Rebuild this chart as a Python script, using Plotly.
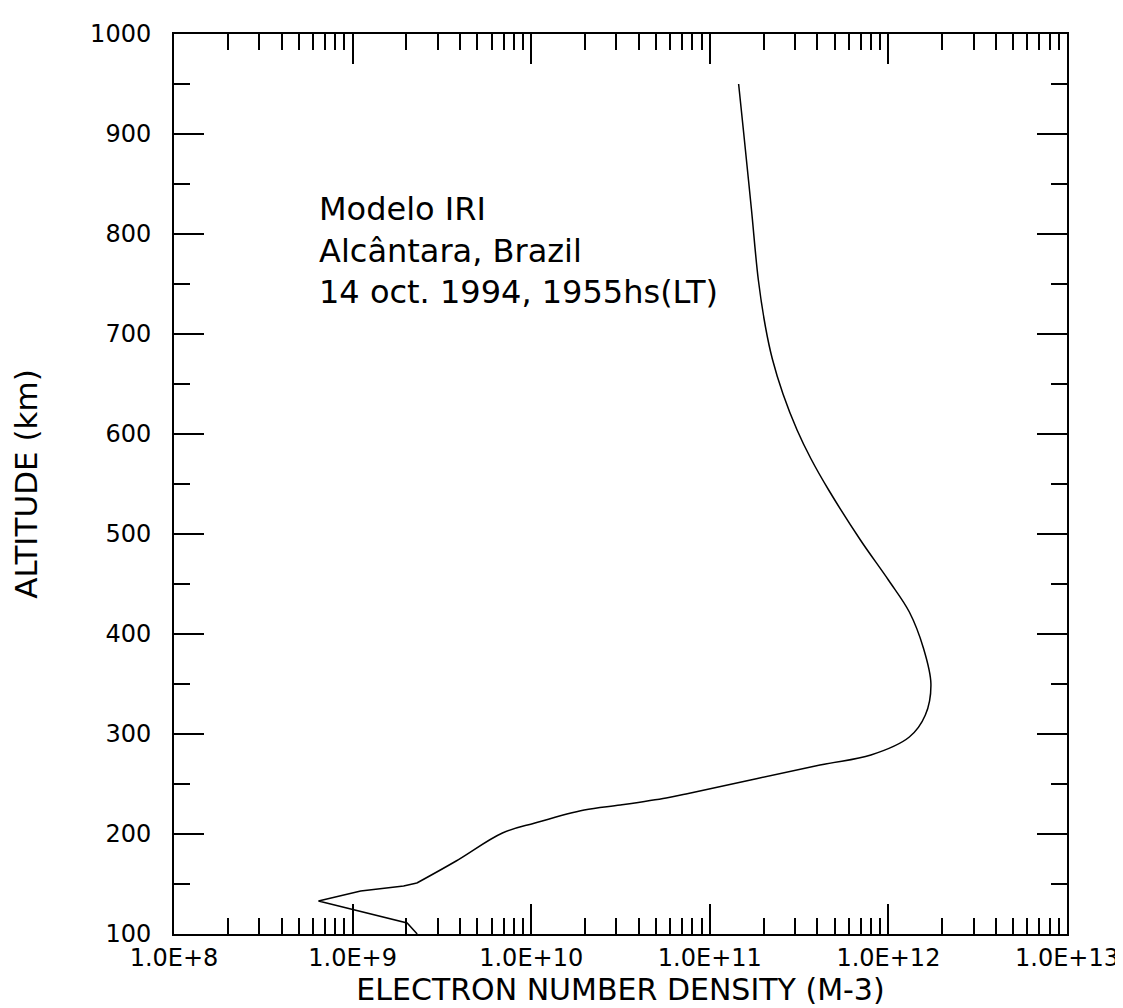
import plotly.graph_objects as go

# Electron density profile (IRI model)
altitude_km = [950, 900, 825, 754, 707, 675, 640, 604, 575, 544, 494, 454, 422,
               386, 350, 319, 297, 279, 269, 240, 236, 229, 224, 211, 201,
               173, 151, 148, 143, 133, 111, 100]
density_m3 = [1.45e11, 1.55e11, 1.71e11, 1.87e11, 2.05e11, 2.24e11, 2.57e11,
              3.08e11, 3.69e11, 4.63e11, 6.97e11, 1.0e12, 1.31e12, 1.57e12,
              1.73e12, 1.61e12, 1.31e12, 7.98e11, 4.14e11, 7.36e10,
              5.7e10, 3.16e10, 1.98e10, 1.05e10, 6.9e9, 3.8e9, 2.29e9, 1.93e9,
              1.11e9, 6.44e8, 2.02e9, 2.3e9]
# index where the smooth F-region part ends and the kinked E-region part begins
smooth_end = altitude_km.index(151)

x_tick_vals = [1e8, 1e9, 1e10, 1e11, 1e12, 1e13]
x_tick_text = ["1.0E+8", "1.0E+9", "1.0E+10", "1.0E+11", "1.0E+12", "1.0E+13"]
x_minor_vals = [k * 10 ** d for d in range(8, 13) for k in range(2, 10)]
y_tick_vals = [100, 200, 300, 400, 500, 600, 700, 800, 900, 1000]

annotation_lines = ["Modelo IRI", "Alcântara, Brazil", "14 oct. 1994, 1955hs(LT)"]

FONT = "DejaVu Sans"

fig = go.Figure()
fig.add_trace(go.Scatter(
    x=density_m3[:smooth_end + 1], y=altitude_km[:smooth_end + 1], mode="lines",
    line=dict(color="black", width=1.5, shape="spline", smoothing=1.0),
    showlegend=False,
))
fig.add_trace(go.Scatter(
    x=density_m3[smooth_end:], y=altitude_km[smooth_end:], mode="lines",
    line=dict(color="black", width=1.5), showlegend=False,
))

fig.add_annotation(
    x=8.8, y=784, xref="x", yref="y", xanchor="left", yanchor="middle",
    align="left", showarrow=False, text="<br>".join(annotation_lines),
    font=dict(family=FONT, size=32, color="black"),
)

axis_common = dict(
    showline=True, linecolor="black", linewidth=2, mirror="ticks",
    ticks="inside", tickcolor="black", tickwidth=2, ticklen=30,
    showgrid=False, zeroline=False,
    tickfont=dict(family=FONT, size=24, color="black"),
)

fig.update_layout(
    width=1123, height=1008,
    margin=dict(l=160, r=56, t=25, b=82),
    paper_bgcolor="white", plot_bgcolor="white",
    xaxis=dict(
        type="log", range=[8, 13], tickmode="array",
        tickvals=x_tick_vals, ticktext=x_tick_text,
        minor=dict(tickmode="array", tickvals=x_minor_vals, ticks="inside",
                   ticklen=16, tickwidth=2, tickcolor="black", showgrid=False),
        ticklabelstandoff=1,
        title=dict(text="ELECTRON NUMBER DENSITY (M-3)", standoff=0,
                   font=dict(family=FONT, size=30, color="black")),
        **axis_common,
    ),
    yaxis=dict(
        range=[100, 1000], tickmode="array", tickvals=y_tick_vals,
        minor=dict(dtick=50, tick0=0, ticks="inside", ticklen=16, tickwidth=2,
                   tickcolor="black", showgrid=False),
        ticklabelstandoff=16,
        title=dict(text="ALTITUDE (km)", standoff=48,
                   font=dict(family=FONT, size=31, color="black")),
        **axis_common,
    ),
)

fig.write_html("out.html")
